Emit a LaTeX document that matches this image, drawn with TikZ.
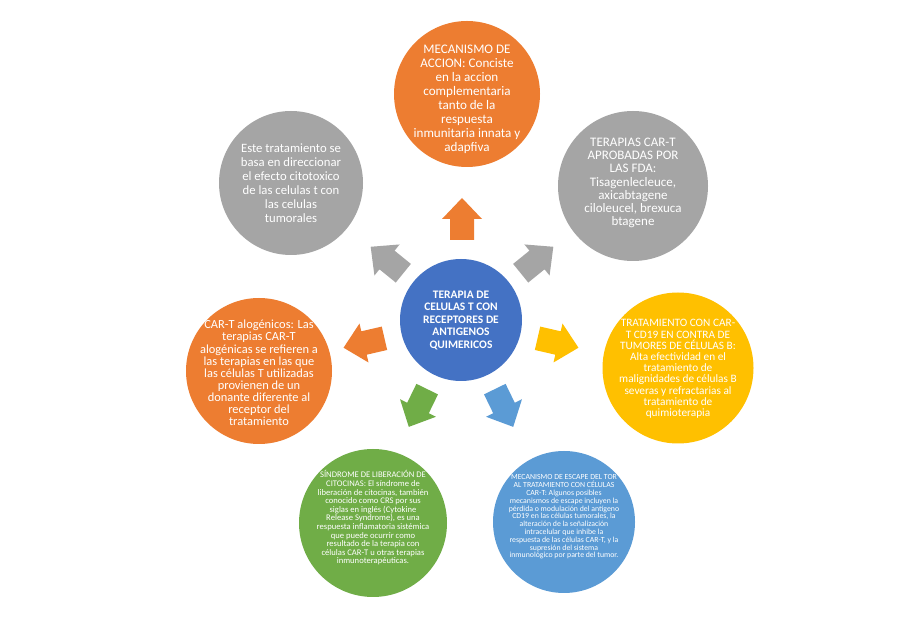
\documentclass[tikz,border=0pt]{standalone}
\usepackage{fontspec}
\setmainfont{Carlito}
\definecolor{corange}{HTML}{ED7D31}
\definecolor{cgray}{HTML}{A5A5A5}
\definecolor{cblue}{HTML}{4472C4}
\definecolor{cyellow}{HTML}{FFC000}
\definecolor{cgreen}{HTML}{70AD47}
\definecolor{clblue}{HTML}{5B9BD5}
\tikzset{
  circ/.style={circle, draw=none, inner sep=0pt, minimum size=#1},
  txt/.style={text=white, align=center, inner sep=0pt},
  barrow/.pic={\fill (-21,-12) -- (0,-12) -- (0,-20) -- (21,0) -- (0,20) -- (0,12) -- (-21,12) -- cycle;}
}
\newcommand{\fs}[2]{\fontsize{#1pt}{#2pt}\selectfont\lineskiplimit=-100pt\lineskip=0pt}
\begin{document}
\begin{tikzpicture}[x=1pt,y=1pt]
\fill[white] (0,0) rectangle (905,640);
\path[use as bounding box] (0,0) rectangle (905,640);
% circles
\node[circ=122pt, fill=cblue] (ctr) at (461,320) {};
\node[circ=146pt, fill=corange] (top) at (467,546) {};
\node[circ=144pt, fill=cgray] (tl) at (291,457) {};
\node[circ=150pt, fill=cgray] (tr) at (633,454) {};
\node[circ=146pt, fill=corange] (lft) at (259,269) {};
\node[circ=151pt, fill=cyellow] (rgt) at (678,272) {};
\node[circ=148pt, fill=cgreen] (grn) at (373,117) {};
\node[circ=142pt, fill=clblue] (blu) at (564,118) {};
% arrows
\coordinate (aup) at (462,421);
\coordinate (aul) at (387,380);
\coordinate (aur) at (537,380);
\coordinate (al) at (364,297);
\coordinate (ar) at (558,297);
\coordinate (adl) at (418,232);
\coordinate (adr) at (504,232);
\pic[corange, rotate=90] at (aup) {barrow};
\pic[cgray, rotate=141] at (aul) {barrow};
\pic[cgray, rotate=39] at (aur) {barrow};
\pic[corange, rotate=193] at (al) {barrow};
\pic[cyellow, rotate=-13] at (ar) {barrow};
\pic[cgreen, rotate=244] at (adl) {barrow};
\pic[clblue, rotate=-64] at (adr) {barrow};
% texts
\node[txt, font=\bfseries\fs{11.5}{12.5}] (ctrT) at (ctr) {TERAPIA DE\\CELULAS T CON\\RECEPTORES DE\\ANTIGENOS\\QUIMERICOS};
\node[txt, font=\fs{13.1}{14}] (topT) at ([yshift=-5pt]top.center) {MECANISMO DE\\ACCION: Conciste\\en la accion\\complementaria\\tanto de la\\respuesta\\inmunitaria innata y\\adapfiva};
\node[txt, font=\fs{12.7}{14.1}] (tlT) at (tl) {Este tratamiento se\\basa en direccionar\\el efecto citotoxico\\de las celulas t con\\las celulas\\tumorales};
\node[txt, font=\fs{13}{13.3}] (trT) at ([yshift=3pt]tr.center) {TERAPIAS CAR-T\\APROBADAS POR\\LAS FDA:\\Tisagenlecleuce,\\axicabtagene\\ciloleucel, brexuca\\btagene};
\node[txt, font=\fs{12.4}{12.1}] (lftT) at ([yshift=-2pt]lft.center) {CAR-T alogénicos: Las\\terapias CAR-T\\alogénicas se refieren a\\las terapias en las que\\las células T utilizadas\\provienen de un\\donante diferente al\\receptor del\\tratamiento};
\node[txt, font=\fs{11.3}{11.2}] (rgtT) at ([yshift=-1pt]rgt.center) {TRATAMIENTO CON CAR-\\T CD19 EN CONTRA DE\\TUMORES DE CÉLULAS B:\\Alta efectividad en el\\tratamiento de\\malignidades de células B\\severas y refractarias al\\tratamiento de\\quimioterapia};
\node[txt, font=\fs{8.6}{8.6}] (grnT) at ([yshift=5pt]grn.center) {SÍNDROME DE LIBERACIÓN DE\\CITOCINAS: El síndrome de\\liberación de citocinas, también\\conocido como CRS por sus\\siglas en inglés (Cytokine\\Release Syndrome), es una\\respuesta inflamatoria sistémica\\que puede ocurrir como\\resultado de la terapia con\\células CAR-T u otras terapias\\inmunoterapéuticas.};
\node[txt, font=\fs{7.8}{7.8}] (bluT) at ([yshift=5pt]blu.center) {MECANISMO DE ESCAPE DEL TOR\\AL TRATAMIENTO CON CÉLULAS\\CAR-T: Algunos posibles\\mecanismos de escape incluyen la\\pérdida o modulación del antígeno\\CD19 en las células tumorales, la\\alteración de la señalización\\intracelular que inhibe la\\respuesta de las células CAR-T, y la\\supresión del sistema\\inmunológico por parte del tumor.};
\end{tikzpicture}
\end{document}
